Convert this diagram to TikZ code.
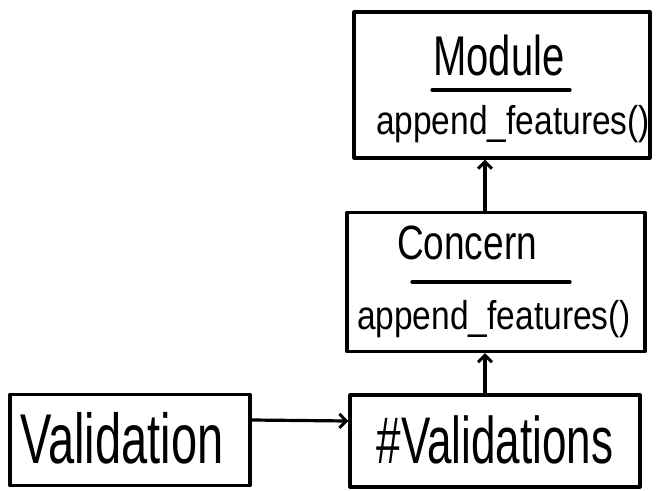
\documentclass[tikz,border=0pt]{standalone}
\usepackage{fontspec}
\usepackage{graphicx}
\setmainfont{Liberation Sans}
\usetikzlibrary{arrows.meta}
% stretch a label upwards, like tall hand lettering
\newcommand\tallText[2][1.4]{\scalebox{1}[#1]{#2}}
\tikzset{
  ink/.style={line width=3.2pt, line cap=round, line join=round},
  classbox/.style={ink, draw, rectangle, inner sep=0pt},
  link/.style={ink, -{Straight Barb[length=7pt,width=14pt,line width=3pt]}},
  title/.style={inner sep=0pt, font=\fontsize{40}{44}\selectfont},
  method/.style={inner sep=0pt, font=\fontsize{33.5}{36}\selectfont},
}
\begin{document}
\begin{tikzpicture}[x=1pt, y=-1pt]
  \useasboundingbox (0,0) rectangle (658,490);

  % class boxes
  \node[classbox, minimum width=296pt, minimum height=146pt] (module) at (502,85) {};
  \node[classbox, minimum width=298pt, minimum height=139pt] (concern) at (496,282) {};
  \node[classbox, minimum width=240pt, minimum height=91pt] (validation) at (130,440) {};
  \node[classbox, minimum width=290pt, minimum height=92pt] (validations) at (495,441) {};

  % Module: name, rule, method
  \node[title] (moduleName) at (499,55) {\tallText{Module}};
  \coordinate (moduleRuleL) at (432,90);
  \coordinate (moduleRuleR) at (570,90);
  \draw[ink] (moduleRuleL) -- (moduleRuleR);
  \node[method] (moduleMethod) at (513,124) {\tallText[1.2]{append\_features()}};

  % Concern: name, rule, method
  \node[title, font=\fontsize{37}{40}\selectfont] (concernName) at (467,243) {\tallText[1.3]{Concern}};
  \coordinate (concernRuleL) at (412,282);
  \coordinate (concernRuleR) at (570,282);
  \draw[ink] (concernRuleL) -- (concernRuleR);
  \node[method] (concernMethod) at (494,319) {\tallText[1.2]{append\_features()}};

  % module names in the lower row
  \node[inner sep=0pt, font=\fontsize{47}{50}\selectfont] (validationName) at (122,438) {\tallText[1.5]{Validation}};
  \node[inner sep=0pt, font=\fontsize{44}{48}\selectfont] (validationsName) at (495,440) {\tallText[1.5]{\#Validations}};

  % connectors
  \coordinate (column) at (485,0);
  \draw[link] ([yshift=20pt]validation.east) -- ([yshift=20pt]validations.west);
  \draw[link] (validations.north -| column) -- (concern.south -| column);
  \draw[link] (concern.north -| column) -- (module.south -| column);
\end{tikzpicture}
\end{document}
